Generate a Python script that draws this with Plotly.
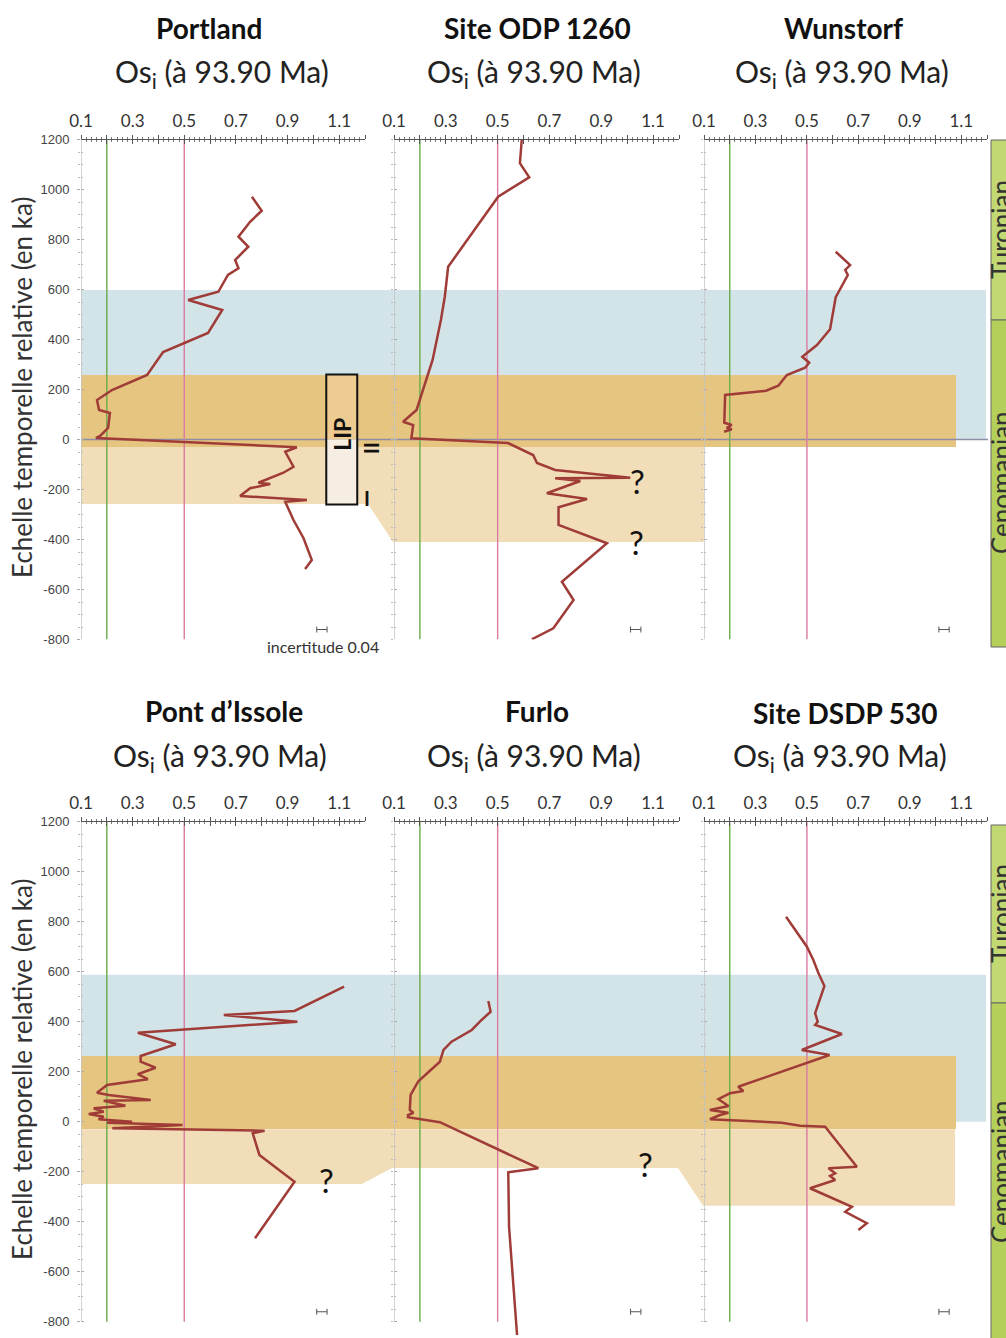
import plotly.graph_objects as go

W, H = 1006, 1338

# ---------------- data ----------------
site_titles = ["Portland", "Site ODP 1260", "Wunstorf", "Pont d’Issole", "Furlo", "Site DSDP 530"]
subtitle = "Os<sub>i</sub> (à 93.90 Ma)"

portland_os = [0.762, 0.800, 0.755, 0.710, 0.748, 0.697, 0.710, 0.669, 0.632, 0.515, 0.647, 0.592, 0.418, 0.356,
               0.220, 0.162, 0.170, 0.212, 0.205, 0.174, 0.158, 0.936, 0.891, 0.923, 0.884, 0.787, 0.833, 0.755,
               0.716, 0.975, 0.891, 0.923, 0.962, 0.994, 0.968]
portland_t = [971, 915, 871, 811, 771, 718, 685, 658, 591, 558, 518, 426, 350, 258,
              198, 158, 118, 106, 46, 14, 6, -31, -49, -109, -133, -173, -178, -195,
              -226, -242, -249, -322, -395, -482, -518]

odp1260_os = [0.593, 0.586, 0.622, 0.502, 0.419, 0.309, 0.296, 0.281, 0.249, 0.187, 0.135, 0.174, 0.167,
              0.509, 0.540, 0.637, 0.652, 0.722, 1.012, 0.722, 0.819, 0.690, 0.845, 0.735, 0.735, 0.922,
              0.748, 0.793, 0.715, 0.632]
odp1260_t = [1198, 1105, 1049, 971, 851, 691, 571, 478, 318, 118, 71, 58, 5,
             -13, -14, -62, -94, -122, -153, -155, -166, -215, -238, -271, -342, -415,
             -569, -642, -755, -799]

wunstorf_os = [0.612, 0.668, 0.649, 0.659, 0.612, 0.590, 0.539, 0.482, 0.509, 0.493, 0.422, 0.389, 0.341,
               0.182, 0.179, 0.208, 0.188, 0.208, 0.178]
wunstorf_t = [751, 698, 678, 658, 569, 441, 378, 331, 307, 287, 258, 215, 195,
              178, 67, 58, 47, 41, 31]

issole_os = [1.119, 0.927, 0.653, 0.938, 0.320, 0.467, 0.331, 0.331, 0.389, 0.320, 0.359, 0.201, 0.162, 0.207,
             0.370, 0.188, 0.272, 0.149, 0.188, 0.130, 0.188, 0.168, 0.298, 0.201, 0.493, 0.221, 0.811, 0.765,
             0.791, 0.927, 0.774]
issole_t = [540, 443, 427, 400, 356, 310, 263, 240, 216, 190, 170, 147, 116, 107,
            87, 84, 64, 54, 40, 31, 20, 10, 0, -4, -13, -26, -36, -46,
            -133, -240, -466]

furlo_os = [0.464, 0.473, 0.438, 0.400, 0.322, 0.291, 0.277, 0.194, 0.164, 0.161, 0.175, 0.154, 0.154, 0.277,
            0.657, 0.541, 0.544, 0.554, 0.575]
furlo_t = [483, 440, 407, 367, 320, 287, 240, 162, 107, 47, 36, 27, 18, -2,
           -186, -202, -420, -553, -853]

dsdp530_os = [0.419, 0.500, 0.525, 0.545, 0.568, 0.551, 0.532, 0.542, 0.532, 0.636, 0.480, 0.588, 0.233, 0.253,
              0.201, 0.156, 0.195, 0.123, 0.195, 0.162, 0.123, 0.402, 0.474, 0.571, 0.694, 0.584, 0.610, 0.590,
              0.610, 0.512, 0.675, 0.649, 0.733, 0.700]
dsdp530_t = [820, 700, 647, 594, 543, 487, 434, 400, 387, 351, 287, 267, 140, 123,
             114, 90, 63, 47, 36, 27, 10, -4, -16, -20, -180, -186, -206, -217,
             -233, -266, -340, -360, -406, -433]

series_os = [portland_os, odp1260_os, wunstorf_os, issole_os, furlo_os, dsdp530_os]
series_t = [portland_t, odp1260_t, wunstorf_t, issole_t, furlo_t, dsdp530_t]

ref_values = [0.2, 0.5]               # reference Os values (vertical lines)
uncertainty = 0.04
x_tick_vals = [0.1, 0.2, 0.3, 0.4, 0.5, 0.6, 0.7, 0.8, 0.9, 1.0, 1.1, 1.2]
x_tick_text = ["0.1", "", "0.3", "", "0.5", "", "0.7", "", "0.9", "", "1.1", ""]
y_tick_vals = [1200, 1000, 800, 600, 400, 200, 0, -200, -400, -600, -800]
y_tick_text = ["1200", "1000", "800", "600", "400", "200", "0", "-200", "-400", "-600", "-800"]
y_minor_vals = list(range(-800, 1201, 50))

stages = ["Turonian", "Cenomanian"]

# bands (ka)
blue_band = {"top": (598, 0), "bottom": (588, 0)}
orange_band = {"top": (258, -30), "bottom": (263, -29)}
lip_box = (1.05, 1.17, 260, -260)

# ---------------- layout helpers ----------------
def xp(px):
    return px / W

def yp(py):
    return 1 - py / H

x_dom_px = [(81, 365), (394, 679), (704, 987)]
row_dom = {0: (yp(639.5), yp(139.5)), 1: (0.0, yp(821.7))}
row_range = {0: [-800, 1200], 1: [-865, 1200]}

FONT = "Lato"
RED = "#a03c37"
GREEN = "#6aab4b"
PINK = "#d97ba2"
BLUE = "#d3e4e9"
ORANGE = "#e6c580"
TAN = "#f1deb9"

fig = go.Figure()
layout = dict(width=W, height=H, margin=dict(l=0, r=0, t=0, b=0, autoexpand=False),
              paper_bgcolor="white", plot_bgcolor="rgba(0,0,0,0)", showlegend=False)

shapes = []
annotations = []


def ann(text, px, py, size, angle=0, color="#222", family=FONT):
    annotations.append(dict(text=text, x=xp(px), y=yp(py), xref="paper", yref="paper", showarrow=False,
                            xanchor="center", yanchor="middle", textangle=angle,
                            font=dict(family=family, size=size, color=color)))


for k in range(6):
    row = k // 3
    col = k % 3
    n = k + 1
    m = k + 7
    xs = "" if n == 1 else str(n)
    xd = (xp(x_dom_px[col][0]), xp(x_dom_px[col][1]))
    yd = row_dom[row]
    yr = row_range[row]
    # main axes
    layout["xaxis" + xs] = dict(domain=xd, range=[0.1, 1.2], anchor="y" + xs, side="top",
                                showline=True, linecolor="#555", linewidth=1, showgrid=False, zeroline=False,
                                tickvals=x_tick_vals, ticktext=x_tick_text, ticks="outside", ticklen=4,
                                tickcolor="#555", tickwidth=1, automargin=False,
                                minor=dict(tick0=0.1, dtick=0.02, ticks="outside", ticklen=2, tickcolor="#777"),
                                tickfont=dict(family=FONT, size=17, color="#333"), ticklabelstandoff=1)
    layout["yaxis" + xs] = dict(domain=yd, range=yr, anchor="x" + xs, showline=False, showgrid=False,
                                zeroline=False, tickvals=y_tick_vals, automargin=False,
                                ticktext=y_tick_text if col == 0 else [""] * len(y_tick_vals),
                                ticks="outside", ticklen=3, tickcolor="#aaa", tickwidth=1,
                                minor=dict(tickvals=y_minor_vals, ticks="outside", ticklen=2, tickcolor="#bbb"),
                                tickfont=dict(family="Liberation Sans", size=13, color="#444"),
                                ticklabelstandoff=5)
    # overlay axes for crossing tick marks
    layout["xaxis" + str(m)] = dict(overlaying="x" + xs, range=[0.1, 1.2], anchor="y" + str(m), side="top",
                                    showline=False, showgrid=False, zeroline=False, showticklabels=False,
                                    tickvals=x_tick_vals, ticks="inside", ticklen=4, tickcolor="#555",
                                    automargin=False,
                                    minor=dict(tick0=0.1, dtick=0.02, ticks="inside", ticklen=2, tickcolor="#777"))
    layout["yaxis" + str(m)] = dict(overlaying="y" + xs, range=yr, anchor="x" + str(m), showline=False,
                                    showgrid=False, zeroline=False, showticklabels=False, automargin=False,
                                    tickvals=y_tick_vals, ticks="inside", ticklen=3, tickcolor="#aaa",
                                    minor=dict(tickvals=y_minor_vals, ticks="inside", ticklen=2, tickcolor="#bbb"))
    fig.add_trace(go.Scatter(x=[None], y=[None], xaxis="x" + str(m), yaxis="y" + str(m),
                             hoverinfo="skip", showlegend=False))

    xa, ya = "x" + xs, "y" + xs
    # y axis line
    shapes.append(dict(type="line", xref=xa, yref=ya, x0=0.1, x1=0.1, y0=-800, y1=1200,
                       line=dict(color="#c4c4c4", width=1.5), layer="above"))
    # reference lines
    for v, c in zip(ref_values, [GREEN, PINK]):
        fig.add_trace(go.Scatter(x=[v, v], y=[-800, 1200], xaxis=xa, yaxis=ya, mode="lines",
                                 line=dict(color=c, width=1.4), hoverinfo="skip"))
    # data
    fig.add_trace(go.Scatter(x=series_os[k], y=series_t[k], xaxis=xa, yaxis=ya, mode="lines",
                             line=dict(color=RED, width=2.5)))
    # uncertainty bar
    fig.add_trace(go.Scatter(x=[1.033], y=[-760], xaxis=xa, yaxis=ya, mode="markers",
                             marker=dict(size=1, color="rgba(0,0,0,0)"),
                             error_x=dict(type="constant", value=uncertainty / 2, color="#555",
                                          thickness=1, width=3)))

# ---------- background bands ----------
for row, yref in [(0, "y"), (1, "y4")]:
    key = "top" if row == 0 else "bottom"
    bt, bb = blue_band[key]
    ot, ob = orange_band[key]
    shapes.append(dict(type="rect", xref="paper", yref=yref, x0=xp(81), x1=xp(986), y0=bb, y1=bt,
                       fillcolor=BLUE, line=dict(width=0), layer="below"))
    shapes.append(dict(type="rect", xref="paper", yref=yref, x0=xp(81), x1=xp(956), y0=ob, y1=ot,
                       fillcolor=ORANGE, line=dict(width=0), layer="below"))

# light tan polygons
tan_top = [(81, -30), (704, -30), (704, -410), (393, -410), (368, -258), (81, -258)]
tan_bot = [(81, -30), (955, -30), (955, -336), (703, -336), (678, -185), (392, -185), (362, -249), (81, -249)]
for pts, yref in [(tan_top, "y"), (tan_bot, "y4")]:
    path = "M " + " L ".join(f"{xp(a):.5f},{b}" for a, b in pts) + " Z"
    shapes.append(dict(type="path", xref="paper", yref=yref, path=path, fillcolor=TAN,
                       line=dict(width=0), layer="below"))

# zero line top row
shapes.append(dict(type="line", xref="paper", yref="y", x0=xp(81), x1=xp(988), y0=0, y1=0,
                   line=dict(color="#8e8ea6", width=1.3), layer="below"))

# LIP box
x0, x1, y0, y1 = lip_box
shapes.append(dict(type="rect", xref="x", yref="y", x0=x0, x1=x1, y0=0, y1=y0,
                   fillcolor="#eecb90", line=dict(width=0)))
shapes.append(dict(type="rect", xref="x", yref="y", x0=x0, x1=x1, y0=y1, y1=0,
                   fillcolor="#f6eee2", line=dict(width=0)))
shapes.append(dict(type="rect", xref="x", yref="y", x0=x0, x1=x1, y0=y1, y1=y0,
                   fillcolor="rgba(0,0,0,0)", line=dict(color="#111", width=2)))
annotations.append(dict(text="<b>LIP</b>", x=1.11, y=22, xref="x", yref="y", showarrow=False,
                        xanchor="center", yanchor="middle",
                        textangle=-90, font=dict(family=FONT, size=23, color="#111")))
ann("<b>II</b>", 371, 448, 20, angle=-90, color="#111")
ann("<b>I</b>", 367, 498, 20, color="#111")

# stage bars
stage_boxes = [(140, 320, 647), (825, 1003, 1345)]
stage_text_y = [(230, 483), (914, 1172)]
for (t0, t1, t2), (ty1, ty2) in zip(stage_boxes, stage_text_y):
    shapes.append(dict(type="rect", xref="paper", yref="paper", x0=xp(991), x1=xp(1012), y0=yp(t1), y1=yp(t0),
                       fillcolor="#c2d872", line=dict(color="#666", width=1)))
    shapes.append(dict(type="rect", xref="paper", yref="paper", x0=xp(991), x1=xp(1012), y0=yp(t2), y1=yp(t1),
                       fillcolor="#b4cf5a", line=dict(color="#666", width=1)))
    ann(stages[0], 1001, ty1, 26, angle=-90, color="#333")
    ann(stages[1], 1001, ty2, 26, angle=-90, color="#333")

# titles
title_pos = [(209, 28), (537, 28), (843, 28), (224, 711), (537, 711), (845, 713)]
sub_pos = [(222, 73), (534, 73), (842, 73), (220, 757), (534, 757), (840, 757)]
for t, (tx, ty), (sx, sy) in zip(site_titles, title_pos, sub_pos):
    ann(f"<b>{t}</b>", tx, ty, 28, color="#111")
    ann(subtitle, sx, sy, 30, color="#222")

# y-axis titles
for ty in (388, 1070):
    ann("Echelle temporelle relative (en ka)", 22, ty, 26, angle=-90, color="#333")

ann("incertitude 0.04", 323, 646, 16, color="#333")

# question marks
q_marks = [("x2", "y2", 1.04, -165), ("x2", "y2", 1.035, -410), ("x4", "y4", 1.05, -232), ("x5", "y5", 1.07, -170)]
for xa, ya, qx, qy in q_marks:
    annotations.append(dict(text="?", x=qx, y=qy, xref=xa, yref=ya, showarrow=False,
                            xanchor="center", yanchor="middle",
                            font=dict(family=FONT, size=33, color="#111")))

layout["shapes"] = shapes
layout["annotations"] = annotations
fig.update_layout(**layout)

fig.write_html("out.html", config={"displayModeBar": False},
               post_script="document.body.style.margin='0px';")
